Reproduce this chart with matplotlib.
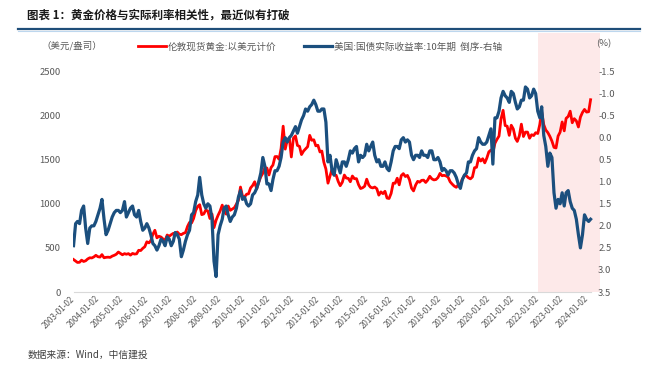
import pandas as pd
import matplotlib
matplotlib.use('Agg')
import matplotlib.pyplot as plt
import matplotlib.dates as mdates
from matplotlib.lines import Line2D

# London spot gold, USD/oz (monthly readings, 2003-01 .. 2024-03)
gold = [
    368, 350, 335, 337, 361, 346, 354, 375, 388, 386, 398, 416,    # 2003
    400, 396, 424, 388, 393, 395, 392, 407, 416, 428, 453, 438,    # 2004
    422, 435, 428, 435, 418, 437, 430, 433, 473, 470, 495, 513,    # 2005
    569, 557, 582, 654, 700, 614, 632, 623, 600, 585, 646, 632,    # 2006
    650, 665, 662, 680, 656, 650, 665, 673, 743, 789, 783, 834,    # 2007
    923, 971, 990, 877, 885, 930, 918, 833, 884, 730, 814, 870,    # 2008
    919, 985, 916, 883, 975, 926, 940, 955, 996, 1040, 1190, 1087, # 2009
    1078, 1109, 1113, 1180, 1207, 1250, 1169, 1246, 1307, 1346, 1410, 1405,  # 2010
    1327, 1411, 1439, 1535, 1536, 1505, 1628, 1880, 1620, 1722, 1746, 1531,  # 2011
    1744, 1770, 1662, 1651, 1558, 1598, 1622, 1648, 1776, 1720, 1726, 1657,  # 2012
    1664, 1588, 1598, 1469, 1394, 1234, 1314, 1395, 1326, 1324, 1253, 1205,  # 2013
    1244, 1326, 1292, 1288, 1250, 1315, 1285, 1285, 1217, 1173, 1182, 1199,  # 2014
    1279, 1213, 1187, 1180, 1190, 1171, 1098, 1135, 1115, 1142, 1065, 1060,  # 2015
    1118, 1234, 1233, 1290, 1215, 1320, 1342, 1309, 1322, 1273, 1178, 1146,  # 2016
    1212, 1255, 1245, 1266, 1268, 1242, 1269, 1312, 1283, 1271, 1275, 1297,  # 2017
    1345, 1318, 1323, 1316, 1303, 1250, 1224, 1201, 1187, 1215, 1221, 1279,  # 2018
    1321, 1316, 1295, 1283, 1305, 1409, 1414, 1520, 1485, 1511, 1464, 1517,  # 2019
    1589, 1609, 1577, 1686, 1730, 1768, 1962, 2060, 1887, 1880, 1776, 1891,  # 2020
    1848, 1743, 1707, 1770, 1903, 1763, 1813, 1813, 1743, 1783, 1774, 1806,  # 2021
    1797, 1900, 2040, 1897, 1837, 1807, 1765, 1711, 1640, 1633, 1768, 1812,  # 2022
    1928, 1827, 1969, 1990, 2050, 1919, 1965, 1940, 1871, 1983, 2036, 2070,  # 2023
    2040, 2044, 2180,                                                        # 2024
]

# US 10Y TIPS real yield, % (plotted inverted on the right axis)
tips = [
    2.45, 1.95, 1.90, 1.95, 1.65, 1.55, 2.05, 2.40, 2.05, 2.00, 2.00, 1.90,  # 2003
    1.75, 1.60, 1.40, 1.85, 2.20, 2.10, 1.95, 1.80, 1.70, 1.65, 1.65, 1.70,  # 2004
    1.65, 1.45, 1.80, 1.70, 1.60, 1.55, 1.75, 1.80, 1.65, 1.90, 2.10, 2.05,  # 2005
    1.95, 2.05, 2.20, 2.40, 2.45, 2.55, 2.45, 2.30, 2.35, 2.45, 2.25, 2.30,  # 2006
    2.45, 2.35, 2.15, 2.20, 2.30, 2.70, 2.55, 2.35, 2.20, 2.10, 1.75, 1.70,  # 2007
    1.45, 1.30, 0.90, 1.30, 1.50, 1.60, 1.50, 1.55, 1.85, 2.80, 3.15, 2.20,  # 2008
    2.00, 1.85, 1.60, 1.55, 1.75, 1.90, 1.80, 1.75, 1.60, 1.35, 1.20, 1.40,  # 2009
    1.35, 1.50, 1.55, 1.50, 1.30, 1.25, 1.15, 1.00, 0.80, 0.45, 0.65, 1.05,  # 2010
    1.05, 1.20, 0.95, 0.75, 0.75, 0.65, 0.45, 0.10, 0.00, 0.10, 0.00, -0.05, # 2011
    -0.15, -0.25, -0.10, -0.25, -0.40, -0.50, -0.65, -0.60, -0.70, -0.75, -0.85, -0.75,  # 2012
    -0.60, -0.60, -0.65, -0.65, -0.35, 0.55, 0.40, 0.75, 0.85, 0.50, 0.65, 0.80,  # 2013
    0.55, 0.55, 0.65, 0.50, 0.30, 0.35, 0.25, 0.20, 0.55, 0.40, 0.45, 0.40,  # 2014
    0.15, 0.30, 0.20, 0.10, 0.40, 0.55, 0.50, 0.65, 0.65, 0.55, 0.70, 0.75,  # 2015
    0.55, 0.30, 0.20, 0.20, 0.25, 0.05, 0.00, 0.10, 0.05, 0.10, 0.40, 0.50,  # 2016
    0.40, 0.40, 0.45, 0.30, 0.40, 0.40, 0.45, 0.30, 0.30, 0.50, 0.50, 0.45,  # 2017
    0.55, 0.75, 0.70, 0.75, 0.85, 0.75, 0.75, 0.80, 0.90, 1.05, 1.15, 0.95,  # 2018
    0.85, 0.80, 0.55, 0.55, 0.40, 0.30, 0.25, 0.00, 0.10, 0.15, 0.15, 0.10,  # 2019
    -0.05, -0.20, 0.60, -0.45, -0.45, -0.60, -0.90, -1.05, -0.95, -0.90, -0.80, -1.05,  # 2020
    -1.00, -0.80, -0.65, -0.70, -0.85, -0.85, -1.15, -1.10, -0.90, -0.95, -1.10, -1.00,  # 2021
    -0.60, -0.45, -0.70, -0.05, 0.20, 0.65, 0.35, 0.45, 1.25, 1.60, 1.40, 1.50,  # 2022
    1.25, 1.55, 1.25, 1.20, 1.45, 1.60, 1.65, 1.85, 2.20, 2.50, 2.20, 1.75,  # 2023
    1.85, 1.90, 1.85,                                                          # 2024
]

dates = pd.date_range('2003-01-02', periods=len(gold), freq=pd.DateOffset(months=1))

left_ticks = [0, 500, 1000, 1500, 2000, 2500]
right_ticks = [-1.5, -1.0, -0.5, 0.0, 0.5, 1.0, 1.5, 2.0, 2.5, 3.0, 3.5]

gold_label = '伦敦现货黄金:以美元计价'
tips_label = '美国:国债实际收益率:10年期  倒序-右轴'
title = '图表 1：黄金价格与实际利率相关性，最近似有打破'
source = '数据来源：Wind，中信建投'

plt.rcParams['font.family'] = ['Noto Sans CJK SC', 'DejaVu Sans']
plt.rcParams['axes.unicode_minus'] = False

W, H = 646, 380
fig = plt.figure(figsize=(W / 100, H / 100), dpi=100)
ax = fig.add_axes([73 / W, 1 - 292 / H, (594 - 73) / W, (292 - 33) / H])
ax2 = ax.twinx()

# highlight of the recent period
ax.axvspan(pd.Timestamp('2022-01-03'), pd.Timestamp('2024-07-20'),
           color='#fde9e9', lw=0, zorder=0, clip_on=False)

l1, = ax.plot(dates, gold, color='#ff0000', lw=2.0, label=gold_label)
l2, = ax2.plot(dates, tips, color='#1b4f7e', lw=2.3, label=tips_label)

# left axis 0-2500, right axis inverted -1.5..3.5 sharing the same grid
ax.set_ylim(0, 2500 * 259 / 220.5)
ax2.set_ylim(3.5, 3.5 - 5 * 259 / 220.5)
ax.set_yticks(left_ticks)
ax2.set_yticks(right_ticks)
ax2.set_yticklabels([f'{v:.1f}' for v in right_ticks])

ax.set_xlim(pd.Timestamp('2002-12-25'), pd.Timestamp('2024-04-22'))
ax.xaxis.set_major_locator(mdates.YearLocator(base=1, month=1, day=2))
ax.xaxis.set_major_formatter(mdates.DateFormatter('%Y-%m-%d'))
for lbl in ax.get_xticklabels():
    lbl.set_rotation(45)
    lbl.set_ha('right')
    lbl.set_va('center')
    lbl.set_rotation_mode('anchor')

for a in (ax, ax2):
    for s in a.spines.values():
        s.set_visible(False)
ax.spines['bottom'].set_visible(True)
ax.spines['bottom'].set_color('#d9d9d9')
ax.spines['bottom'].set_bounds(mdates.date2num(dates[0]), mdates.date2num(dates[-1]))

ax.tick_params(axis='y', length=0, labelsize=6.8, labelcolor='#595959', pad=9)
ax2.tick_params(axis='y', length=0, labelsize=6.8, labelcolor='#595959', pad=3)
ax.tick_params(axis='x', length=0, labelsize=5.8, labelcolor='#595959', pad=4)

ax.legend(handles=[l1, l2], loc='center', bbox_to_anchor=(320 / W, 1 - 47 / H),
          bbox_transform=fig.transFigure, ncol=2, frameon=False, fontsize=6.9,
          handlelength=2.9, handletextpad=0.2, columnspacing=2.9,
          labelcolor='#595959')

fig.text(72 / W, 1 - 46 / H, '（美元/盎司）', ha='center', va='center',
         fontsize=6.8, color='#595959')
fig.text(604 / W, 1 - 44 / H, '(%)', ha='center', va='center',
         fontsize=6.8, color='#595959')

fig.text(27 / W, 1 - 15 / H, title, fontsize=8.3, fontweight='bold',
         va='center', color='#1a1a1a')
fig.add_artist(Line2D([18 / W, 640 / W], [1 - 29 / H] * 2, color='#1f4e79',
                      lw=1.6, transform=fig.transFigure))
fig.add_artist(Line2D([18 / W, 640 / W], [1 - 31 / H] * 2, color='#bdd7ee',
                      lw=0.8, transform=fig.transFigure))

fig.text(28 / W, 1 - 355 / H, source, fontsize=7, style='italic',
         va='center', color='#404040')

fig.savefig('out.png', dpi=100)
